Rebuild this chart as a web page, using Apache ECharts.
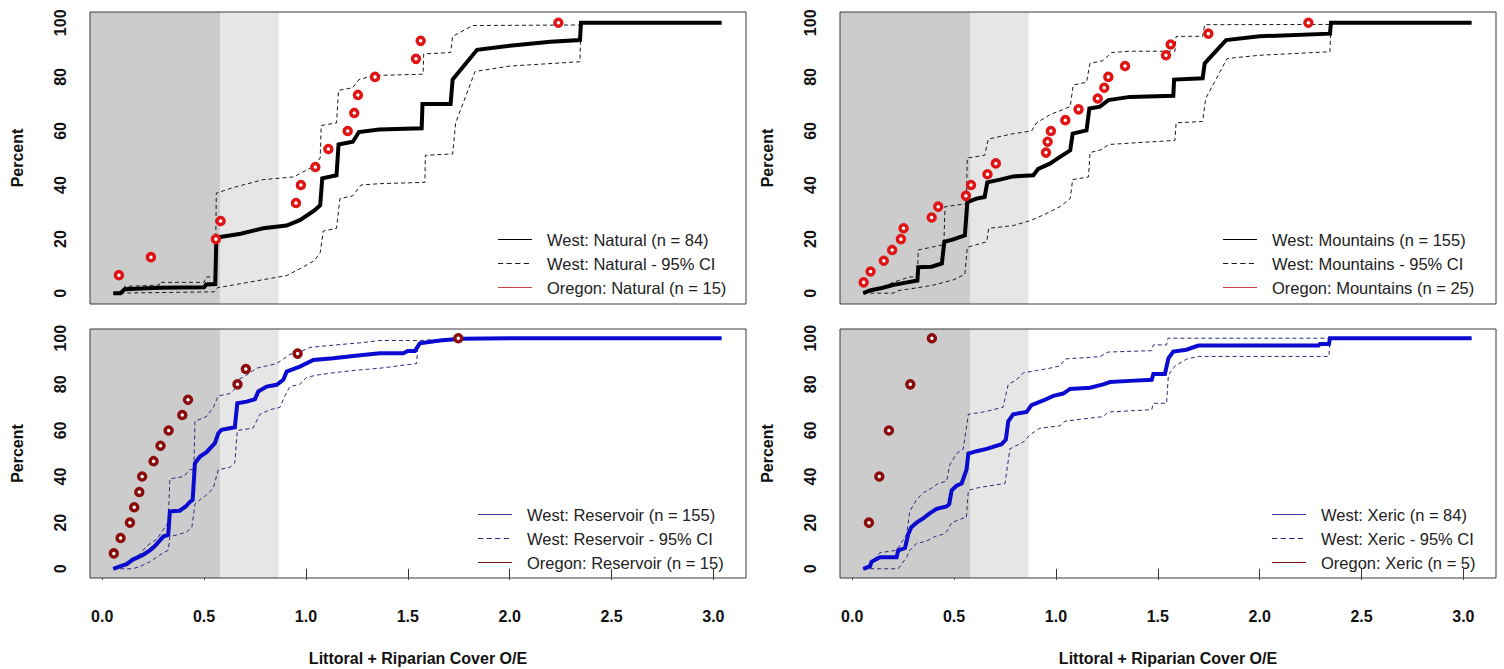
<!DOCTYPE html>
<html><head><meta charset="utf-8">
<script src="https://cdn.jsdelivr.net/npm/echarts@6/dist/echarts.min.js"></script>
<style>html,body{margin:0;padding:0;background:#fff}#c{width:1504px;height:669px}</style>
</head><body><div id="c"></div><script>
// ---------- tick labels / thresholds ----------
const xTicks = [0, 0.5, 1, 1.5, 2, 2.5, 3];
const yTicks = [0, 20, 40, 60, 80, 100];
const shadeBreaks = [0.578, 0.866];

// ---------- Natural ----------
const naturalLabels = ['West: Natural (n = 84)', 'West: Natural - 95% CI', 'Oregon: Natural (n = 15)'];
const naturalWest = [[0.054,0],[0.09,0],[0.11,1.5],[0.28,2],[0.50,2.2],[0.51,3.2],[0.555,3.4],[0.56,20],[0.58,20.8],[0.68,22],[0.79,24],[0.905,25],[0.97,27],[1.04,30.5],[1.07,32.5],[1.08,42.5],[1.15,43.6],[1.16,55],[1.23,56],[1.26,59.6],[1.36,60.5],[1.568,61],[1.572,70],[1.71,70],[1.72,79],[1.84,90],[2.0,91.5],[2.2,93],[2.345,93.6],[2.35,100],[3.04,100]];
const naturalUpper = [[0.054,0],[0.11,0.5],[0.11,2.5],[0.28,3],[0.28,4],[0.50,4],[0.51,6],[0.555,6],[0.56,37],[0.64,39],[0.79,42],[0.94,43],[1.04,47],[1.07,50],[1.075,62],[1.15,63],[1.16,75],[1.23,76],[1.26,79],[1.33,80.5],[1.575,81],[1.578,88.5],[1.71,89],[1.72,95],[1.82,99],[2.345,99.2],[2.35,100],[3.04,100]];
const naturalLower = [[0.054,0],[0.55,0.5],[0.555,1],[0.565,2],[0.64,3],[0.79,5],[0.905,6.5],[0.97,9],[1.04,12],[1.07,15],[1.085,23],[1.15,24],[1.167,35],[1.23,36],[1.27,40],[1.36,40.5],[1.584,41],[1.586,51],[1.72,51.5],[1.735,63],[1.83,82],[2.0,84],[2.345,85.6],[2.35,100],[3.04,100]];
const naturalOregonX = [0.082,0.239,0.558,0.581,0.951,0.975,1.046,1.110,1.205,1.237,1.255,1.339,1.540,1.563,2.239];
const naturalOregonY = [6.67,13.33,20,26.67,33.33,40,46.67,53.33,60,66.67,73.33,80,86.67,93.33,100];

// ---------- Mountains ----------
const mountainsLabels = ['West: Mountains (n = 155)', 'West: Mountains - 95% CI', 'Oregon: Mountains (n = 25)'];
const mountainsWest = [[0.054,0],[0.087,1],[0.15,2],[0.2,3],[0.27,4],[0.32,4.7],[0.324,9.6],[0.39,9.8],[0.44,11],[0.452,19],[0.50,20],[0.553,21.4],[0.565,33.7],[0.61,35],[0.65,35.6],[0.663,41],[0.725,42],[0.79,43.2],[0.889,43.6],[0.913,46],[0.97,47.9],[1.02,50.4],[1.07,52.8],[1.082,59],[1.15,60.2],[1.164,68.3],[1.216,69],[1.257,71.4],[1.363,72.6],[1.576,73],[1.58,79],[1.72,79.5],[1.73,85],[1.835,93.6],[2.0,95],[2.345,96],[2.35,100],[3.04,100]];
const mountainsUpper = [[0.054,0],[0.15,2],[0.2,4],[0.28,6],[0.32,6],[0.324,16],[0.39,17],[0.45,18],[0.455,32],[0.553,33],[0.56,33],[0.565,50],[0.65,51],[0.668,57],[0.79,59],[0.88,60],[0.905,63],[0.97,66],[1.07,69],[1.085,77],[1.15,78],[1.167,85],[1.23,86],[1.273,89],[1.363,89.5],[1.584,89.5],[1.59,95],[1.72,95],[1.73,99.3],[2.345,99.4],[2.35,100],[3.04,100]];
const mountainsLower = [[0.054,0],[0.2,0],[0.23,1],[0.32,2],[0.4,3],[0.5,5],[0.553,7],[0.565,17],[0.66,19],[0.67,24],[0.79,25],[0.88,27],[0.94,29],[1.02,32],[1.07,35],[1.082,42],[1.16,43],[1.167,52],[1.22,53],[1.26,55],[1.363,55.5],[1.584,56.5],[1.59,63],[1.72,63.5],[1.735,72],[1.84,86.8],[2.0,88],[2.345,89.3],[2.35,100],[3.04,100]];
const mountainsOregonX = [0.056,0.090,0.155,0.196,0.239,0.252,0.390,0.422,0.558,0.583,0.664,0.705,0.951,0.959,0.975,1.046,1.111,1.205,1.237,1.257,1.339,1.540,1.563,1.748,2.239];
const mountainsOregonY = [4,8,12,16,20,24,28,32,36,40,44,48,52,56,60,64,68,72,76,80,84,88,92,96,100];

// ---------- Reservoir ----------
const reservoirLabels = ['West: Reservoir (n = 155)', 'West: Reservoir - 95% CI', 'Oregon: Reservoir (n = 15)'];
const reservoirWest = [[0.054,0],[0.087,1],[0.12,2],[0.15,4],[0.2,6],[0.234,8],[0.26,10],[0.28,12],[0.30,14],[0.324,14.7],[0.332,24.9],[0.38,25.2],[0.41,27],[0.43,29],[0.444,29.9],[0.455,45.8],[0.48,48.7],[0.512,50.6],[0.553,54.5],[0.570,58.8],[0.586,60.3],[0.651,61.4],[0.663,71.8],[0.709,72.5],[0.75,73.6],[0.766,76.9],[0.807,79],[0.856,79.8],[0.889,82],[0.905,85.5],[0.97,87.7],[1.036,90.6],[1.134,91.3],[1.232,92.3],[1.363,93.5],[1.478,93.5],[1.5,94.5],[1.535,94.5],[1.559,97.8],[1.658,99],[1.756,99.8],[2.0,100],[3.04,100]];
const reservoirUpper = [[0.054,0],[0.1,2],[0.17,5],[0.22,10],[0.27,13],[0.30,17],[0.324,20],[0.332,39],[0.40,40],[0.43,43],[0.45,43],[0.455,64],[0.512,66],[0.545,70],[0.57,75],[0.627,76],[0.651,78],[0.668,82],[0.709,84],[0.758,87],[0.807,88],[0.856,89],[0.889,91],[0.921,93],[0.97,94],[1.02,96],[1.134,97],[1.265,98],[1.363,99],[1.55,99],[1.756,100],[3.04,100]];
const reservoirLower = [[0.054,0],[0.15,0],[0.185,1],[0.234,3],[0.267,5],[0.30,7],[0.324,8],[0.332,14],[0.38,15],[0.414,16],[0.44,18],[0.455,28],[0.48,30],[0.512,32],[0.545,35],[0.57,43],[0.627,44],[0.651,46],[0.663,60],[0.74,61],[0.774,67],[0.823,69],[0.872,70],[0.897,75],[0.921,79],[0.97,80],[1.003,83],[1.052,84],[1.134,85],[1.232,86],[1.363,87],[1.543,89],[1.55,97],[1.658,99],[1.74,100],[3.04,100]];
const reservoirOregonX = [0.057,0.090,0.136,0.157,0.182,0.196,0.252,0.286,0.326,0.393,0.421,0.664,0.705,0.959,1.748];
const reservoirOregonY = [6.67,13.33,20,26.67,33.33,40,46.67,53.33,60,66.67,73.33,80,86.67,93.33,100];

// ---------- Xeric ----------
const xericLabels = ['West: Xeric (n = 84)', 'West: Xeric - 95% CI', 'Oregon: Xeric (n = 5)'];
const xericWest = [[0.054,0],[0.087,1],[0.095,3],[0.136,5],[0.218,5],[0.226,8],[0.259,9],[0.275,15],[0.29,18],[0.316,20],[0.35,22],[0.38,24],[0.414,26],[0.463,27],[0.476,28],[0.488,34],[0.512,36],[0.537,37],[0.553,41],[0.561,43],[0.57,50],[0.61,51],[0.66,52],[0.733,54],[0.754,56],[0.766,64],[0.79,67],[0.856,68],[0.88,71],[0.938,73],[0.987,75],[1.036,76],[1.069,78],[1.167,78.5],[1.232,80],[1.265,81],[1.363,81.5],[1.47,82],[1.478,84.5],[1.535,84.5],[1.552,91.3],[1.576,94.2],[1.64,95],[1.699,96.8],[2.288,96.8],[2.296,97.5],[2.34,97.5],[2.345,100],[3.04,100]];
const xericUpper = [[0.054,0],[0.095,3],[0.136,7],[0.218,8],[0.267,15],[0.283,25],[0.316,30],[0.35,33],[0.39,35],[0.422,37],[0.463,38],[0.479,45],[0.512,50],[0.545,52],[0.57,67],[0.643,68],[0.74,70],[0.766,80],[0.807,82],[0.84,85],[0.905,86],[0.97,87],[1.02,88],[1.044,91],[1.216,92],[1.257,94],[1.47,94.6],[1.478,97.1],[1.543,97.1],[1.55,100],[3.04,100]];
const xericLower = [[0.054,0],[0.226,0],[0.242,2],[0.267,5],[0.283,8],[0.316,11],[0.365,12],[0.406,14],[0.447,15],[0.463,16],[0.488,20],[0.545,22],[0.56,22],[0.57,34],[0.61,35],[0.676,36],[0.75,37],[0.774,52],[0.84,55],[0.872,58],[0.921,61],[1.02,62],[1.044,64],[1.134,65],[1.232,66],[1.257,68],[1.47,69],[1.478,71.8],[1.543,71.8],[1.552,84.1],[1.585,88],[1.64,90.9],[1.699,92.1],[2.34,92.1],[2.345,100],[3.04,100]];
const xericOregonX = [0.082,0.133,0.180,0.285,0.391];
const xericOregonY = [20,40,60,80,100];

// ---------- layout / style ----------
const FONT = 'Liberation Sans, Arial, Helvetica, sans-serif';
const X_MIN = -0.06, X_MAX = 3.16, Y_MIN = -4, Y_MAX = 104;
const topStyle = {main:'#000000', ci:'#1a1a1a', pt:'#e01414', legMain:'#000000', legPt:'#d04040'};
const botStyle = {main:'#0a0ad0', ci:'#2a2a78', pt:'#8b0c0c', legMain:'#3c3cae', legPt:'#7a1414'};
const panels = [
  {west:naturalWest, upper:naturalUpper, lower:naturalLower, ox:naturalOregonX, oy:naturalOregonY, labels:naturalLabels,
   grid:{left:90, top:12, width:656, height:292}, bottom:false, st:topStyle, leg:{left:498, top:231}},
  {west:mountainsWest, upper:mountainsUpper, lower:mountainsLower, ox:mountainsOregonX, oy:mountainsOregonY, labels:mountainsLabels,
   grid:{left:840, top:12, width:656, height:292}, bottom:false, st:topStyle, leg:{left:1223, top:231}},
  {west:reservoirWest, upper:reservoirUpper, lower:reservoirLower, ox:reservoirOregonX, oy:reservoirOregonY, labels:reservoirLabels,
   grid:{left:90, top:329, width:656, height:249}, bottom:true, st:botStyle, leg:{left:478, top:506}},
  {west:xericWest, upper:xericUpper, lower:xericLower, ox:xericOregonX, oy:xericOregonY, labels:xericLabels,
   grid:{left:840, top:329, width:656, height:249}, bottom:true, st:botStyle, leg:{left:1272, top:506}}
];

const corners = 'M0,0L0.01,0ZM34,14L33.99,14Z';
const iconSolid = 'path://' + corners + 'M0,6.4H34V7.6H0Z';
const iconDash = 'path://' + corners + 'M0,6.5h5.2v1h-5.2ZM8.6,6.5h5.2v1h-5.2ZM17.2,6.5h5.2v1h-5.2ZM25.8,6.5h5.2v1h-5.2Z';

const grids = [], xAxes = [], yAxes = [], series = [], legends = [];
panels.forEach((p, i) => {
  grids.push(Object.assign({show:true, z:10, backgroundColor:'transparent', borderColor:'#3a3a3a', borderWidth:1}, p.grid));
  xAxes.push({
    type:'value', gridIndex:i, min:X_MIN, max:X_MAX,
    axisLine:{show:false}, splitLine:{show:false},
    axisTick:{show:p.bottom, length:11, lineStyle:{color:'#333'}, customValues:xTicks},
    axisLabel:{show:p.bottom, customValues:xTicks, margin:30, fontFamily:FONT, fontWeight:'bold', fontSize:16, color:'#111',
               formatter:v => v.toFixed(1)},
    name: p.bottom ? 'Littoral + Riparian Cover O/E' : '', nameLocation:'middle', nameGap:72,
    nameTextStyle:{fontFamily:FONT, fontWeight:'bold', fontSize:16, color:'#111'}
  });
  yAxes.push({
    type:'value', gridIndex:i, min:Y_MIN, max:Y_MAX,
    axisLine:{show:false}, splitLine:{show:false},
    axisTick:{show:true, length:10, lineStyle:{color:'#333'}, customValues:yTicks},
    axisLabel:{customValues:yTicks, rotate:90, margin:22, fontFamily:FONT, fontWeight:'bold', fontSize:16, color:'#111'},
    name:'Percent', nameLocation:'middle', nameRotate:90, nameGap:65,
    nameTextStyle:{fontFamily:FONT, fontWeight:'bold', fontSize:16, color:'#111'}
  });
  const ciStyle = {color:p.st.ci, width:1, type:[4,3]};
  series.push({
    type:'line', name:p.labels[1], xAxisIndex:i, yAxisIndex:i, data:p.upper, symbol:'none', z:3,
    lineStyle:ciStyle, silent:true,
    markArea:{silent:true, data:[
      [{xAxis:X_MIN, yAxis:Y_MIN, itemStyle:{color:'#cccccc'}}, {xAxis:shadeBreaks[0], yAxis:Y_MAX}],
      [{xAxis:shadeBreaks[0], yAxis:Y_MIN, itemStyle:{color:'#e6e6e6'}}, {xAxis:shadeBreaks[1], yAxis:Y_MAX}]
    ]}
  });
  series.push({type:'line', name:p.labels[1], xAxisIndex:i, yAxisIndex:i, data:p.lower, symbol:'none', z:3, lineStyle:ciStyle, silent:true});
  series.push({type:'line', name:p.labels[0], xAxisIndex:i, yAxisIndex:i, data:p.west, symbol:'none', z:4,
    lineStyle:{color:p.st.main, width:4, join:'miter'}, silent:true});
  series.push({type:'scatter', name:p.labels[2], xAxisIndex:i, yAxisIndex:i, z:5,
    data:p.ox.map((x, k) => [x, p.oy[k]]), symbol:'circle', symbolSize:7,
    itemStyle:{color:'#ffffff', borderColor:p.st.pt, borderWidth:3.5, opacity:1}});
  legends.push({
    orient:'vertical', left:p.leg.left, top:p.leg.top, padding:0, itemGap:9, itemWidth:34, itemHeight:14,
    selectedMode:false,
    textStyle:{fontFamily:FONT, fontSize:16.5, color:'#222', padding:[0,0,0,10], lineHeight:14},
    data:[
      {name:p.labels[0], icon:iconSolid, itemStyle:{color:p.st.legMain, borderWidth:0, opacity:1}},
      {name:p.labels[1], icon:iconDash, itemStyle:{color:p.st.ci, borderWidth:0, opacity:1}},
      {name:p.labels[2], icon:iconSolid, itemStyle:{color:p.st.legPt, borderWidth:0, opacity:1}}
    ]
  });
});
// item spacing tuned so rows sit ~23px apart
legends.forEach(l => { l.itemGap = 7; });

const chart = echarts.init(document.getElementById('c'), null, {renderer:'svg'});
chart.setOption({
  animation:false, backgroundColor:'#ffffff',
  grid:grids, xAxis:xAxes, yAxis:yAxes, series:series, legend:legends
});
</script></body></html>
